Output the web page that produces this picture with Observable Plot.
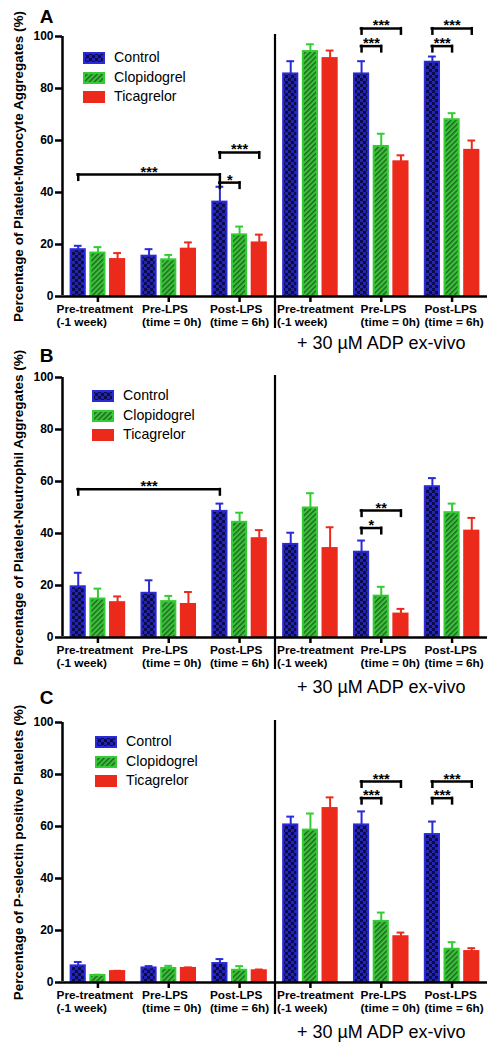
<!DOCTYPE html>
<html>
<head>
<meta charset="utf-8">
<script src="https://cdn.jsdelivr.net/npm/d3@7"></script>
<script src="https://cdn.jsdelivr.net/npm/@observablehq/plot@0.6"></script>
<style>
  body { margin: 0; background: #fff; font-family: "Liberation Sans", Arial, sans-serif; }
  #wrap { position: relative; width: 500px; height: 1049px; overflow: hidden; }
  .legend { position: absolute; font-size: 14.2px; color: #000; }
  .legend .row { position: relative; height: 19.5px; }
  .legend .sw { position: absolute; left: 0; top: 0; width: 22px; height: 12px; }
  .legend .lab { position: absolute; left: 31px; top: -3px; white-space: nowrap; }
</style>
</head>
<body>
<svg width="0" height="0" style="position:absolute">
  <defs>
    <pattern id="pControl" width="6" height="6" patternUnits="userSpaceOnUse">
      <rect width="6" height="6" fill="#2424b4"/>
      <rect width="3" height="3" fill="#0c0c48"/>
      <rect x="3" y="3" width="3" height="3" fill="#0c0c48"/>
    </pattern>
    <pattern id="pClop" width="3.6" height="3.6" patternUnits="userSpaceOnUse" patternTransform="rotate(45)">
      <rect width="3.6" height="3.6" fill="#3cc03c"/>
      <rect width="1.4" height="3.6" fill="#1c661c"/>
    </pattern>
  </defs>
</svg>
<div id="wrap"></div>
<script>
// ---------------- DATA ----------------
const groupLabels = [
  "Pre-treatment\n(-1 week)", "Pre-LPS\n(time = 0h)", "Post-LPS\n(time = 6h)",
  "Pre-treatment\n(-1 week)", "Pre-LPS\n(time = 0h)", "Post-LPS\n(time = 6h)"
];
const groupIndex = [0, 1, 2, 3, 4, 5];
const treatments = ["Control", "Clopidogrel", "Ticagrelor"];
const yTicks = [0, 20, 40, 60, 80, 100];
const adpLabel = "+ 30 µM ADP ex-vivo";

// Panel A: platelet-monocyte aggregates (mean, SEM)
const monoControl        = [18.0, 15.5, 36.3, 85.6, 85.6, 90.1];
const monoControlSem     = [1.5, 2.7, 5.9, 4.9, 4.9, 2.2];
const monoClopidogrel    = [16.7, 14.1, 23.7, 94.2, 57.7, 68.0];
const monoClopidogrelSem = [2.3, 1.9, 3.2, 2.8, 4.9, 2.5];
const monoTicagrelor     = [14.2, 18.2, 20.6, 91.5, 51.8, 56.2];
const monoTicagrelorSem  = [2.5, 2.6, 3.2, 3.1, 2.5, 3.8];
const monoBrackets = [
  {fromG: 0, fromT: 0, toG: 2, toT: 0, y: 46.9, label: "***"},
  {fromG: 2, fromT: 0, toG: 2, toT: 1, y: 43.8, label: "*"},
  {fromG: 2, fromT: 0, toG: 2, toT: 2, y: 55.4, label: "***"},
  {fromG: 4, fromT: 0, toG: 4, toT: 1, y: 96.3, label: "***"},
  {fromG: 4, fromT: 0, toG: 4, toT: 2, y: 103.1, label: "***"},
  {fromG: 5, fromT: 0, toG: 5, toT: 1, y: 96.3, label: "***"},
  {fromG: 5, fromT: 0, toG: 5, toT: 2, y: 103.1, label: "***"}
];

// Panel B: platelet-neutrophil aggregates
const neutControl        = [19.5, 17.0, 48.5, 35.8, 32.8, 58.0];
const neutControlSem     = [5.4, 5.0, 3.0, 4.5, 4.5, 3.3];
const neutClopidogrel    = [14.8, 13.8, 44.3, 49.8, 15.9, 48.0];
const neutClopidogrelSem = [4.0, 2.2, 3.7, 5.7, 3.6, 3.5];
const neutTicagrelor     = [13.4, 12.7, 38.0, 34.2, 9.0, 40.9];
const neutTicagrelorSem  = [2.4, 4.8, 3.3, 8.2, 2.0, 5.1];
const neutBrackets = [
  {fromG: 0, fromT: 0, toG: 2, toT: 0, y: 57.0, label: "***"},
  {fromG: 4, fromT: 0, toG: 4, toT: 1, y: 42.1, label: "*"},
  {fromG: 4, fromT: 0, toG: 4, toT: 2, y: 48.8, label: "**"}
];

// Panel C: P-selectin positive platelets
const pselControl        = [6.4, 5.6, 7.3, 60.6, 60.6, 56.9];
const pselControlSem     = [1.5, 0.7, 1.7, 3.2, 5.2, 5.0];
const pselClopidogrel    = [2.7, 5.4, 4.7, 58.6, 23.5, 12.8];
const pselClopidogrelSem = [0.3, 1.0, 1.6, 6.4, 3.4, 2.7];
const pselTicagrelor     = [4.2, 5.4, 4.5, 66.9, 17.6, 11.9];
const pselTicagrelorSem  = [0.3, 0.4, 0.5, 4.3, 1.6, 1.3];
const pselBrackets = [
  {fromG: 4, fromT: 0, toG: 4, toT: 1, y: 70.9, label: "***"},
  {fromG: 4, fromT: 0, toG: 4, toT: 2, y: 77.3, label: "***"},
  {fromG: 5, fromT: 0, toG: 5, toT: 1, y: 70.9, label: "***"},
  {fromG: 5, fromT: 0, toG: 5, toT: 2, y: 77.3, label: "***"}
];

// ---------------- STYLE / LAYOUT ----------------
const fontFamily = "'Liberation Sans', Arial, Helvetica, sans-serif";
const barFills = ["url(#pControl)", "url(#pClop)", "#ec2a1c"];
const barStrokes = ["#2a2ad6", "#33cc33", "#ec2a1c"];
const barOffset = [-0.278, 0, 0.278];
const barHalf = 0.1;
const capHalf = 0.055;
const axisW = 2.5;
const labelNudge = [-3, 3, 0, 5, 9, 2]; // px nudges of the tick-label blocks
const labelSize = 11.8;

const cx = (g, t) => g + barOffset[t];

const measureCtx = document.createElement("canvas").getContext("2d");
function textWidth(s, font) { measureCtx.font = font; return measureCtx.measureText(s).width; }

function panel(cfg) {
  const series = [cfg.control, cfg.clop, cfg.tic];
  const sems = [cfg.controlSem, cfg.clopSem, cfg.ticSem];
  const bars = [];
  series.forEach((vals, t) => vals.forEach((v, g) =>
    bars.push({g, t, treatment: treatments[t], value: v, top: v + sems[t][g]})));
  const legs = cfg.brackets.flatMap(b => [{x: cx(b.fromG, b.fromT), y: b.y}, {x: cx(b.toG, b.toT), y: b.y}]);
  const labelFont = `bold ${labelSize}px ${fontFamily}`;

  const marks = [];
  treatments.forEach((tr, t) => {
    const sub = bars.filter(d => d.t === t);
    marks.push(
      Plot.ruleX(sub, {x: d => cx(d.g, d.t), y1: "value", y2: "top", stroke: barStrokes[t], strokeWidth: 2}),
      Plot.ruleY(sub, {x1: d => cx(d.g, d.t) - capHalf, x2: d => cx(d.g, d.t) + capHalf, y: "top", stroke: barStrokes[t], strokeWidth: 2}),
      Plot.rectY(sub, {x1: d => cx(d.g, d.t) - barHalf, x2: d => cx(d.g, d.t) + barHalf, y1: 0, y2: "value",
        fill: "treatment", stroke: barStrokes[t], strokeWidth: 2})
    );
  });
  marks.push(
    // axes
    Plot.ruleX([-0.5], {y1: 0, y2: 100, strokeWidth: axisW, insetTop: -1}),
    Plot.ruleY([0], {x1: -0.5, x2: 5.5, strokeWidth: axisW}),
    Plot.ruleY(yTicks, {y: d => d, x1: -0.5, x2: -0.5, insetLeft: -7, strokeWidth: axisW}),
    Plot.text(yTicks, {x: -0.5, y: d => d, text: d => String(d), dx: -9, textAnchor: "end",
      fontSize: 12, fontWeight: "bold"}),
    Plot.ruleX(groupIndex, {x: d => d, y1: 0, y2: 0, insetBottom: -6, strokeWidth: axisW}),
    ...groupIndex.map(g => {
      const lines = groupLabels[g].split("\n");
      const w = Math.max(...lines.map(l => textWidth(l, labelFont)));
      return Plot.text([groupLabels[g]], {x: g, text: d => d, frameAnchor: "bottom", textAnchor: "start",
        lineAnchor: "top", dx: -w / 2 + labelNudge[g], dy: 7, fontSize: labelSize, fontWeight: "bold", lineHeight: 1.12});
    }),
    // divider
    Plot.ruleX([2.5], {y1: 100, y2: 0, insetTop: -2, insetBottom: -32, strokeWidth: 2.2}),
    // significance brackets
    Plot.ruleY(cfg.brackets, {x1: d => cx(d.fromG, d.fromT) - 0.02, x2: d => cx(d.toG, d.toT) + 0.02, y: "y", strokeWidth: axisW}),
    Plot.ruleX(legs, {x: "x", y1: "y", y2: "y", insetTop: -1, insetBottom: -7, strokeWidth: axisW}),
    Plot.text(cfg.brackets, {x: d => (cx(d.fromG, d.fromT) + cx(d.toG, d.toT)) / 2, y: "y", text: "label",
      lineAnchor: "bottom", dy: 2, fontSize: 14.5, fontWeight: "bold"}),
    // titles
    Plot.text([cfg.letter], {frameAnchor: "top-left", dx: -16, dy: cfg.letterDy, textAnchor: "middle",
      lineAnchor: "middle", fontSize: 19, fontWeight: "bold"}),
    Plot.text([cfg.yLabel], {frameAnchor: "left", rotate: -90, dx: -44, textAnchor: "middle",
      lineAnchor: "middle", fontSize: 13.5, fontWeight: "bold"}),
    Plot.text([adpLabel], {x: 4, frameAnchor: "bottom", dy: cfg.adpDy, lineAnchor: "middle", fontSize: 18})
  );

  const svg = Plot.plot({
    width: 500,
    height: cfg.height,
    marginTop: cfg.marginTop,
    marginBottom: cfg.marginBottom,
    marginLeft: 62,
    marginRight: 13,
    x: {domain: [-0.5, 5.5], axis: null},
    y: {domain: [0, 100], axis: null},
    color: {domain: treatments, range: barFills},
    style: {fontFamily, background: "transparent", overflow: "visible", color: "#000"},
    marks
  });
  svg.style.top = cfg.top + "px";
  svg.style.position = "absolute";
  svg.style.left = "0px";
  document.getElementById("wrap").appendChild(svg);

  // legend
  const lg = document.createElement("div");
  lg.className = "legend";
  lg.style.left = cfg.legendLeft + "px";
  lg.style.top = cfg.legendTop + "px";
  treatments.forEach((tr, t) => {
    const row = document.createElement("div");
    row.className = "row";
    row.innerHTML = `<svg class="sw" width="22" height="12"><rect x="1" y="1" width="20" height="10" fill="${barFills[t]}" stroke="${barStrokes[t]}" stroke-width="2"/></svg><span class="lab">${tr}</span>`;
    lg.appendChild(row);
  });
  document.getElementById("wrap").appendChild(lg);
}

panel({
  top: 0, height: 340, marginTop: 36, marginBottom: 44,
  letter: "A", letterDy: -20, adpDy: 47,
  yLabel: "Percentage of Platelet-Monocyte Aggregates (%)",
  control: monoControl, controlSem: monoControlSem,
  clop: monoClopidogrel, clopSem: monoClopidogrelSem,
  tic: monoTicagrelor, ticSem: monoTicagrelorSem,
  brackets: monoBrackets, legendLeft: 83, legendTop: 52
});
panel({
  top: 340, height: 345, marginTop: 37, marginBottom: 48,
  letter: "B", letterDy: -22, adpDy: 50,
  yLabel: "Percentage of Platelet-Neutrophil Aggregates (%)",
  control: neutControl, controlSem: neutControlSem,
  clop: neutClopidogrel, clopSem: neutClopidogrelSem,
  tic: neutTicagrelor, ticSem: neutTicagrelorSem,
  brackets: neutBrackets, legendLeft: 92, legendTop: 390
});
panel({
  top: 685, height: 364, marginTop: 37, marginBottom: 67,
  letter: "C", letterDy: -24.5, adpDy: 50,
  yLabel: "Percentage of P-selectin positive Platelets (%)",
  control: pselControl, controlSem: pselControlSem,
  clop: pselClopidogrel, clopSem: pselClopidogrelSem,
  tic: pselTicagrelor, ticSem: pselTicagrelorSem,
  brackets: pselBrackets, legendLeft: 95, legendTop: 736
});
</script>
</body>
</html>
